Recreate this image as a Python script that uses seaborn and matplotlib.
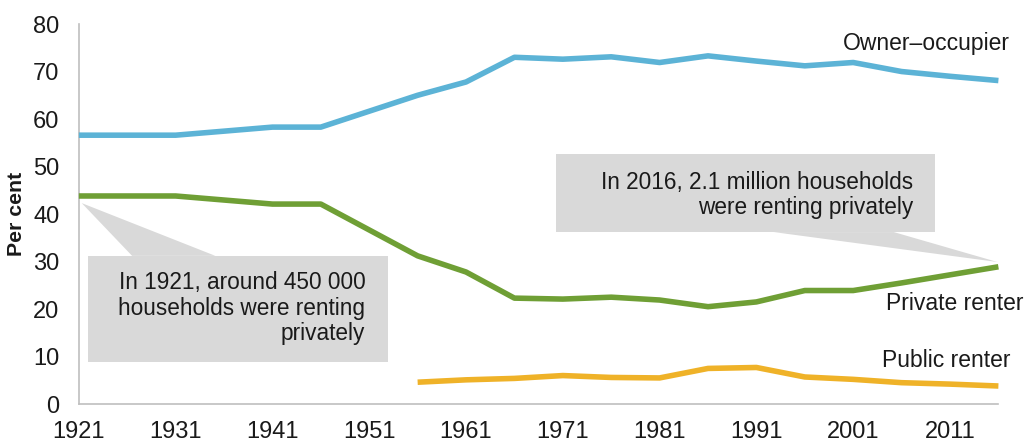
import matplotlib
matplotlib.use("Agg")
import matplotlib.pyplot as plt
from matplotlib.patches import Polygon, Rectangle
import seaborn as sns
import pandas as pd
import numpy as np

# Data (per cent of households)
years = [1921, 1931, 1941, 1946, 1956, 1961, 1966, 1971, 1976, 1981,
         1986, 1991, 1996, 2001, 2006, 2011, 2016]
owner = [56.6, 56.6, 58.3, 58.3, 65.0, 67.8, 73.0, 72.6, 73.1, 71.9,
         73.3, 72.2, 71.2, 71.9, 70.0, 69.0, 68.1]
private = [43.8, 43.8, 42.1, 42.1, 31.2, 27.8, 22.3, 22.1, 22.5, 21.9,
           20.5, 21.5, 23.9, 23.9, 25.5, 27.2, 28.9]
public = [None, None, None, None, 4.6, 5.1, 5.4, 6.0, 5.6, 5.5,
          7.5, 7.7, 5.7, 5.2, 4.5, 4.2, 3.8]

series_names = ["Owner\u2013occupier", "Private renter", "Public renter"]
colours = {"Owner\u2013occupier": "#5cb3d6",
           "Private renter": "#6f9f35",
           "Public renter": "#efb228"}

df = pd.DataFrame({"year": years, series_names[0]: owner,
                   series_names[1]: private, series_names[2]: public})
long = df.melt(id_vars="year", var_name="series", value_name="pct").dropna()

sns.set_style("white")
plt.rcParams["font.family"] = ["Liberation Sans", "DejaVu Sans"]

fig = plt.figure(figsize=(10.24, 4.45), dpi=100)
ax = fig.add_axes([0.077, 0.092, 0.898, 0.854])

# callouts (drawn below the lines)
grey = "#d9d9d9"
ax.add_patch(Rectangle((1921.9, 8.8), 31.0, 22.4, facecolor=grey, edgecolor="none", zorder=1))
ax.add_patch(Polygon([(1926.5, 31.2), (1935.1, 31.2), (1921.3, 42.3)],
                     closed=True, facecolor=grey, edgecolor="none", zorder=1))
ax.add_patch(Rectangle((1970.3, 36.2), 39.2, 16.4, facecolor=grey, edgecolor="none", zorder=1))
ax.add_patch(Polygon([(1992.8, 36.2), (2005.2, 36.2), (2015.9, 29.9)],
                     closed=True, facecolor=grey, edgecolor="none", zorder=1, clip_on=False))

sns.lineplot(data=long, x="year", y="pct", hue="series", palette=colours,
             hue_order=series_names, linewidth=4.0, legend=False, ax=ax, zorder=3)
for line in ax.lines:
    line.set_solid_capstyle("butt")
    line.set_solid_joinstyle("round")
    line.set_clip_on(False)

txt = "#1a1a1a"
ax.text(1950.6, 20.2, "In 1921, around 450 000\nhouseholds were renting\nprivately",
        ha="right", va="center", fontsize=16.3, color=txt, linespacing=1.15, zorder=2)
ax.text(2007.2, 44.0, "In 2016, 2.1 million households\nwere renting privately",
        ha="right", va="center", fontsize=16.3, color=txt, linespacing=1.15, zorder=2)

ax.text(2017.2, 75.8, "Owner\u2013occupier", ha="right", va="center", fontsize=16.5,
        color=txt, clip_on=False)
ax.text(2018.6, 21.1, "Private renter", ha="right", va="center", fontsize=16.5,
        color=txt, clip_on=False)
ax.text(2017.3, 9.2, "Public renter", ha="right", va="center", fontsize=16.5,
        color=txt, clip_on=False)

ax.set_xlim(1921, 2016)
ax.set_ylim(0, 80)
ax.set_xticks(np.arange(1921, 2012, 10))
ax.set_yticks(np.arange(0, 81, 10))
ax.set_xlabel("")
ax.set_ylabel("Per cent", fontsize=15.3, fontweight="bold", color=txt, labelpad=5)
ax.tick_params(axis="both", labelsize=17, colors=txt, length=5, width=1,
               color="#bfbfbf", direction="out")
ax.tick_params(axis="x", pad=7)
ax.tick_params(axis="y", pad=9)

sns.despine(ax=ax)
for side in ["left", "bottom"]:
    ax.spines[side].set_color("#bfbfbf")
    ax.spines[side].set_linewidth(1.2)

plt.savefig("out.png", dpi=100)
